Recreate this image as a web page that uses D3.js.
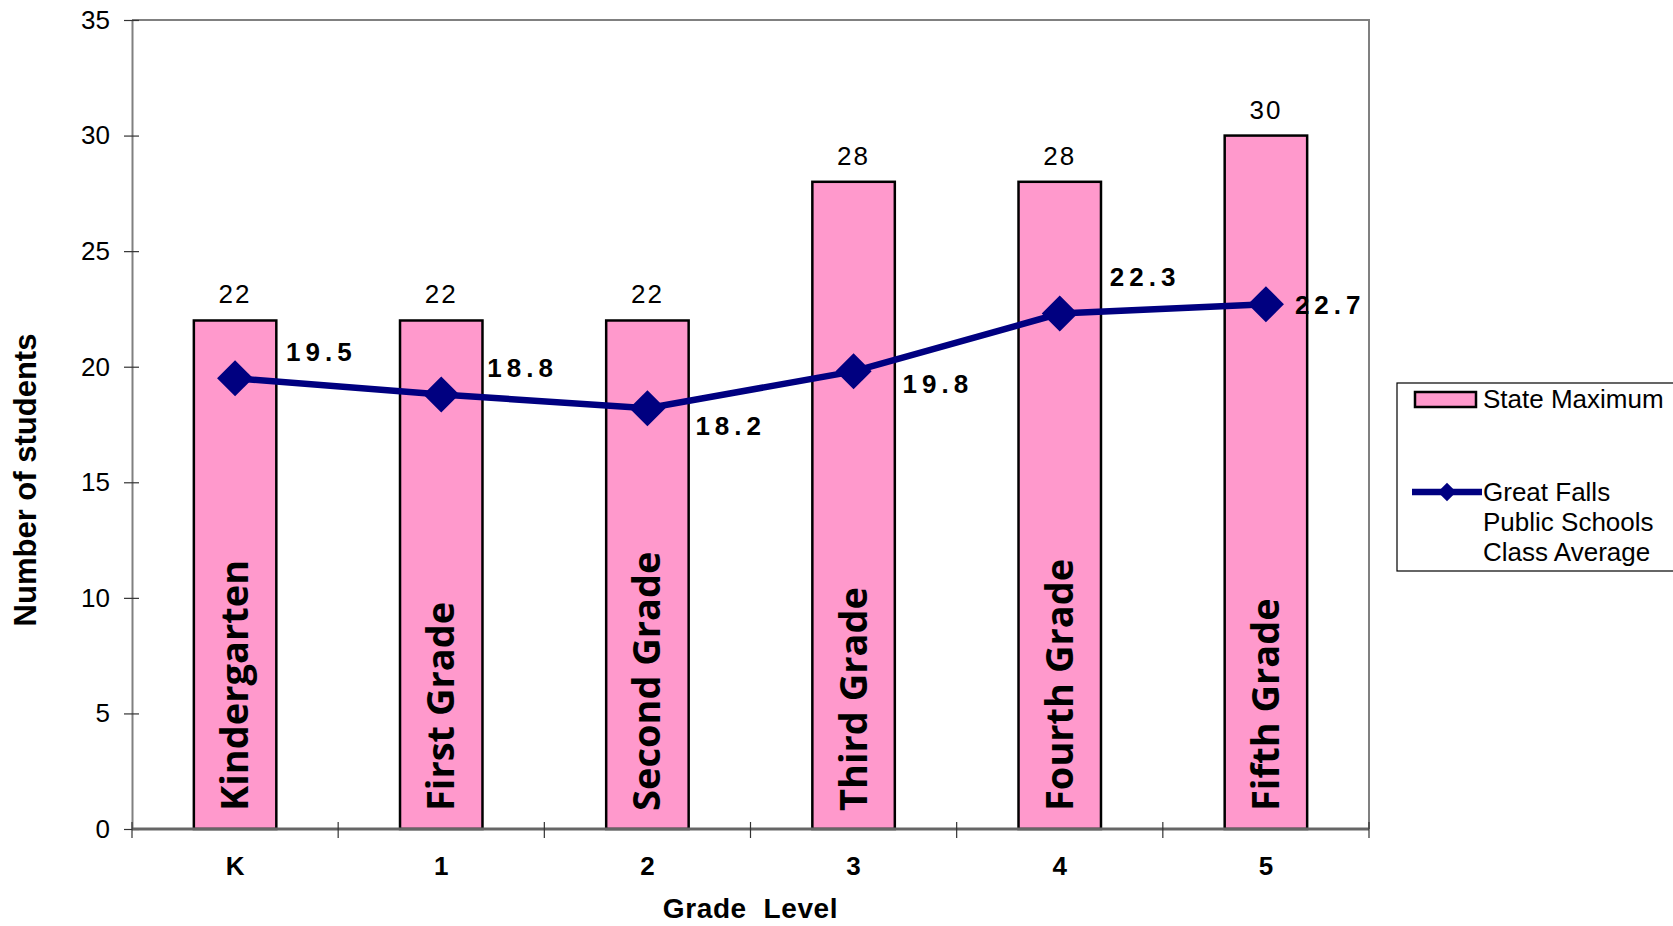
<!DOCTYPE html>
<html>
<head>
<meta charset="utf-8">
<script src="https://cdn.jsdelivr.net/npm/d3@7"></script>
<style>
  body { margin: 0; background: #fff; }
  svg { display: block; }
</style>
</head>
<body>
<svg id="chart" width="1673" height="926"></svg>
<script>
// chart data
var grades = ["K", "1", "2", "3", "4", "5"];
var gradeNames = ["Kindergarten", "First Grade", "Second Grade", "Third Grade", "Fourth Grade", "Fifth Grade"];
var stateMax = [22, 22, 22, 28, 28, 30];
var classAvg = [19.5, 18.8, 18.2, 19.8, 22.3, 22.7];
var yTicks = [0, 5, 10, 15, 20, 25, 30, 35];

var svg = d3.select("#chart");
let pLeft = 132, pRight = 1369, pTop = 20, pBottom = 829;
let sans = "'Liberation Sans', Arial, sans-serif";
let narrow = "'Liberation Sans Narrow', 'Liberation Sans', Arial, sans-serif";

let x = d3.scaleBand().domain(grades).range([pLeft, pRight]).padding(0);
let y = d3.scaleLinear().domain([0, 35]).range([pBottom, pTop]);
let barW = x.bandwidth() * 0.4;
let cx = d => x(d) + x.bandwidth() / 2;

// plot frame (top + right)
svg.append("path")
  .attr("d", `M${pLeft},${pTop}H${pRight}V${pBottom}`)
  .attr("fill", "none").attr("stroke", "#808080").attr("stroke-width", 2);

// bars
svg.selectAll("rect.bar").data(grades).enter().append("rect")
  .attr("class", "bar")
  .attr("x", d => cx(d) - barW / 2)
  .attr("y", (d, i) => y(stateMax[i]))
  .attr("width", barW)
  .attr("height", (d, i) => pBottom - y(stateMax[i]))
  .attr("fill", "#FF99CC").attr("stroke", "#000").attr("stroke-width", 2.5);

// grade names inside the bars
svg.selectAll("text.gname").data(grades).enter().append("text")
  .attr("transform", d => `translate(${cx(d) + 13},${pBottom - 18}) rotate(-90)`)
  .attr("font-family", "'Open Sans', sans-serif").attr("font-weight", "bold")
  .attr("font-size", 38).attr("fill", "#000")
  .text((d, i) => gradeNames[i]);

// bar value labels
svg.selectAll("text.blab").data(grades).enter().append("text")
  .attr("x", d => cx(d)).attr("y", (d, i) => y(stateMax[i]) - 17)
  .attr("text-anchor", "middle")
  .attr("font-family", sans)
  .attr("font-size", 26).attr("letter-spacing", 2)
  .text((d, i) => stateMax[i]);

// y axis
let yAxis = d3.axisLeft(y).tickValues(yTicks).tickSize(0).tickPadding(22);
let ga = svg.append("g").attr("transform", `translate(${pLeft},0)`).call(yAxis);
ga.select(".domain").attr("stroke", "#808080").attr("stroke-width", 2);
ga.selectAll("text").attr("font-family", sans)
  .attr("font-size", 26).attr("fill", "#000");
ga.selectAll(".tick").append("line").attr("x1", -8).attr("x2", 7).attr("stroke", "#333").attr("stroke-width", 1.2);

// x axis
let xa = svg.append("g").attr("transform", `translate(0,${pBottom})`);
xa.append("line").attr("x1", pLeft).attr("x2", pRight)
  .attr("stroke", "#666").attr("stroke-width", 3);
let bounds = grades.map(d => x(d)).concat([pRight]);
xa.selectAll("line.tk").data(bounds).enter().append("line")
  .attr("x1", d => d).attr("x2", d => d).attr("y1", -7).attr("y2", 9)
  .attr("stroke", "#333").attr("stroke-width", 1.2);
xa.selectAll("text").data(grades).enter().append("text")
  .attr("x", d => cx(d)).attr("y", 46)
  .attr("text-anchor", "middle")
  .attr("font-family", narrow)
  .attr("font-weight", "bold").attr("font-size", 26)
  .text(d => d);

// axis titles
svg.append("text")
  .attr("x", (pLeft + pRight) / 2).attr("y", 918)
  .attr("text-anchor", "middle")
  .attr("font-family", narrow)
  .attr("font-weight", "bold").attr("font-size", 28)
  .attr("letter-spacing", 0.6)
  .attr("xml:space", "preserve")
  .text("Grade  Level");

svg.append("text")
  .attr("transform", "translate(36,480) rotate(-90)")
  .attr("text-anchor", "middle")
  .attr("font-family", sans)
  .attr("font-weight", "bold").attr("font-size", 31)
  .text("Number of students");

// average line
let line = d3.line().x(d => cx(d)).y((d, i) => y(classAvg[i]));
svg.append("path").datum(grades)
  .attr("d", line)
  .attr("fill", "none").attr("stroke", "#000080").attr("stroke-width", 6.5);

let diamond = d3.symbol(d3.symbolSquare, 650);
svg.selectAll("path.pt").data(grades).enter().append("path")
  .attr("transform", (d, i) => `translate(${cx(d)},${y(classAvg[i])}) rotate(45)`)
  .attr("d", diamond).attr("fill", "#000080");

// label placement, offsets from each point
let labOff = [[51, -27], [46, -27], [48, 17], [49, 12], [50, -38], [29, 0]];
svg.selectAll("text.alab").data(grades).enter().append("text")
  .attr("x", (d, i) => cx(d) + labOff[i][0])
  .attr("y", (d, i) => y(classAvg[i]) + labOff[i][1] + 10)
  .attr("font-family", sans)
  .attr("font-weight", "bold").attr("font-size", 26).attr("letter-spacing", 5)
  .text((d, i) => classAvg[i].toFixed(1));

// legend
let lg = svg.append("g");
lg.append("rect").attr("x", 1397).attr("y", 383).attr("width", 300).attr("height", 188)
  .attr("fill", "#fff").attr("stroke", "#000").attr("stroke-width", 1.2);
lg.append("rect").attr("x", 1415).attr("y", 392).attr("width", 61).attr("height", 15)
  .attr("fill", "#FF99CC").attr("stroke", "#000").attr("stroke-width", 2.5);
lg.append("line").attr("x1", 1412).attr("x2", 1482).attr("y1", 492).attr("y2", 492)
  .attr("stroke", "#000080").attr("stroke-width", 6.5);
lg.append("path").attr("transform", "translate(1447,492) rotate(45)")
  .attr("d", d3.symbol(d3.symbolSquare, 170)).attr("fill", "#000080");
let legText = ["State Maximum", "Great Falls", "Public Schools", "Class Average"];
let legY = [399, 492, 522, 552];
lg.selectAll("text").data(legText).enter().append("text")
  .attr("x", 1483).attr("y", (d, i) => legY[i] + 9)
  .attr("font-family", sans)
  .attr("font-size", 26)
  .text(d => d);
</script>
</body>
</html>
